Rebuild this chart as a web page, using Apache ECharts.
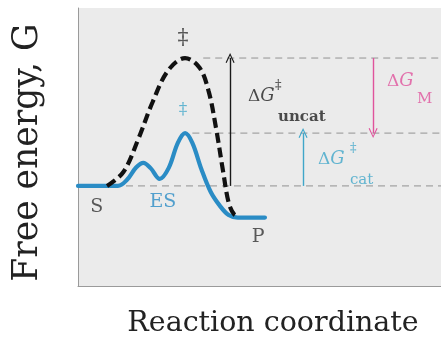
<!DOCTYPE html>
<html>
<head>
<meta charset="utf-8">
<script src="https://cdn.jsdelivr.net/npm/echarts@6/dist/echarts.min.js"></script>
<style>
  html, body { margin: 0; padding: 0; background: #ffffff; }
  #chart { width: 441px; height: 343px; }
</style>
</head>
<body>
<div id="chart"></div>
<script>
// Free-energy profiles along the reaction coordinate (arbitrary units, 0-100)
var catalyzedPath = [
  [0, 36], [11, 36], [13.5, 38.2], [16, 42.6], [18, 44.3], [20, 42.4],
  [22.5, 38.5], [25, 42.5], [27.5, 51.5], [29.5, 55], [31.5, 51.5],
  [34, 42], [36.5, 34], [39, 29], [41.5, 25.5], [44, 24.6], [51.5, 24.6]
];
var uncatalyzedPath = [
  [8, 36], [12.5, 41], [16.5, 52.5], [20.5, 66], [24.8, 77.5], [29.5, 82],
  [33.5, 78.5], [36, 70], [38, 57], [40, 41], [41.5, 30], [43, 25.8], [44.5, 24.8]
];

// Energy levels: substrate, catalyzed transition state, uncatalyzed transition state
var levelS = 36;
var levelCat = 55;
var levelUncat = 82;
var refLevels = [
  { from: 0, y: levelS },
  { from: 31.5, y: levelCat },
  { from: 34.5, y: levelUncat }
];

// Vertical energy-difference arrows
var arrowUncat = { x: 41.9, from: levelS, to: levelUncat };
var arrowCat = { x: 62, from: levelS, to: levelCat };
var arrowM = { x: 81.3, from: levelUncat, to: levelCat };

// Text annotations: [x, y, text]
var stateLabels = [[5.2, 28.3, 'S'], [49.6, 17.6, 'P']];
var esLabel = [[23.4, 30.1, 'ES']];
var tsLabels = [[28.9, 89.2, '‡']];
var tsCatLabels = [[28.9, 63.4, '‡']];

var serif = '"DejaVu Serif", "Liberation Serif", serif';
var blue = '#2a8cc5';
var cyan = '#3fa6c9';
var magenta = '#e0539c';
var ink = '#222222';

var chevron = 'path://M0,12 L6,0 L12,12 L10.6,12.6 L6,3 L1.4,12.6 Z';

function arrowLine(a, color) {
  return {
    silent: true,
    symbol: ['none', chevron],
    symbolSize: [9, 10],
    lineStyle: { color: color, width: 1.4, type: 'solid' },
    label: { show: false },
    data: [[{ coord: [a.x, a.from] }, { coord: [a.x, a.to] }]]
  };
}

function levelSeries(l) {
  return {
    type: 'line',
    data: [[l.from, l.y], [100, l.y]],
    symbol: 'none',
    silent: true,
    z: 1,
    lineStyle: { color: '#929292', width: 1, type: [7, 5] }
  };
}

function textSeries(data, color, size, weight, pos) {
  return {
    type: 'scatter',
    data: data,
    symbolSize: 0,
    silent: true,
    z: 5,
    label: {
      show: true,
      position: pos || 'inside',
      distance: 0,
      formatter: function (p) { return p.data[2]; },
      color: color,
      fontFamily: serif,
      fontSize: size,
      fontWeight: weight || 'normal'
    }
  };
}

// Pieces of the ΔG labels: [x, y, text], anchored at their left edge
var uncatPieces = {
  main: [[46.8, 68.1, 'ΔG']], sup: [[54.3, 72, '‡']], sub: [[55.1, 60.9, 'uncat']]
};
var catPieces = {
  main: [[66.1, 45.5, 'ΔG']], sup: [[74.9, 49.3, '‡']], sub: [[74.9, 38, 'cat']]
};
var mPieces = {
  main: [[85.1, 73.5, 'ΔG']], sub: [[93.4, 67.4, 'M']]
};

function deltaG(data, color) {
  return {
    type: 'scatter', data: data, symbolSize: 0, silent: true, z: 5,
    label: {
      show: true, position: 'right', distance: 0,
      formatter: function () { return '{d|Δ}{g|G}'; },
      rich: {
        d: { fontFamily: serif, fontSize: 17, color: color },
        g: { fontFamily: serif, fontSize: 18, fontStyle: 'italic', color: color }
      }
    }
  };
}

var series = [
  levelSeries(refLevels[0]),
  levelSeries(refLevels[1]),
  levelSeries(refLevels[2]),
  {
    type: 'line',
    data: catalyzedPath,
    smooth: 0.35,
    symbol: 'none',
    z: 3,
    lineStyle: { color: blue, width: 4.2, cap: 'round', join: 'round' }
  },
  {
    type: 'line',
    data: uncatalyzedPath,
    smooth: 0.35,
    symbol: 'none',
    z: 4,
    lineStyle: { color: '#111111', width: 4.2, type: [10, 5] }
  },
  {
    type: 'line', data: [], symbol: 'none', z: 4,
    markLine: arrowLine(arrowUncat, '#1a1a1a')
  },
  {
    type: 'line', data: [], symbol: 'none', z: 4,
    markLine: arrowLine(arrowCat, cyan)
  },
  {
    type: 'line', data: [], symbol: 'none', z: 4,
    markLine: arrowLine(arrowM, magenta)
  },
  textSeries(stateLabels, '#333333', 19),
  textSeries(esLabel, blue, 19),
  textSeries(tsLabels, '#333333', 22),
  textSeries(tsCatLabels, cyan, 17),
  deltaG(uncatPieces.main, ink),
  textSeries(uncatPieces.sup, ink, 13, 'normal', 'right'),
  textSeries(uncatPieces.sub, ink, 15, 'bold', 'right'),
  deltaG(catPieces.main, cyan),
  textSeries(catPieces.sup, cyan, 13, 'normal', 'right'),
  textSeries(catPieces.sub, cyan, 15, 'normal', 'right'),
  deltaG(mPieces.main, magenta),
  textSeries(mPieces.sub, magenta, 15, 'normal', 'right')
];

var chart = echarts.init(document.getElementById('chart'), null, { renderer: 'canvas' });
chart.setOption({
  animation: false,
  grid: {
    left: 78, right: 0, top: 8, bottom: 56,
    show: true, backgroundColor: '#ebebeb', borderWidth: 0
  },
  xAxis: {
    type: 'value', min: 0, max: 100,
    name: 'Reaction coordinate',
    nameLocation: 'middle', nameGap: 23,
    nameTextStyle: { fontFamily: serif, fontSize: 28.5, color: '#222222', padding: [0, 0, 0, 27] },
    axisLine: { show: true, lineStyle: { color: '#9a9a9a', width: 1 } },
    axisTick: { show: false }, axisLabel: { show: false }, splitLine: { show: false }
  },
  yAxis: {
    type: 'value', min: 0, max: 100,
    name: 'Free energy, G',
    nameLocation: 'middle', nameGap: 32,
    nameTextStyle: { fontFamily: serif, fontSize: 34.5, color: '#222222', padding: [0, 11, 0, 0] },
    axisLine: { show: true, lineStyle: { color: '#9a9a9a', width: 1 } },
    axisTick: { show: false }, axisLabel: { show: false }, splitLine: { show: false }
  },
  series: series
});
</script>
</body>
</html>
